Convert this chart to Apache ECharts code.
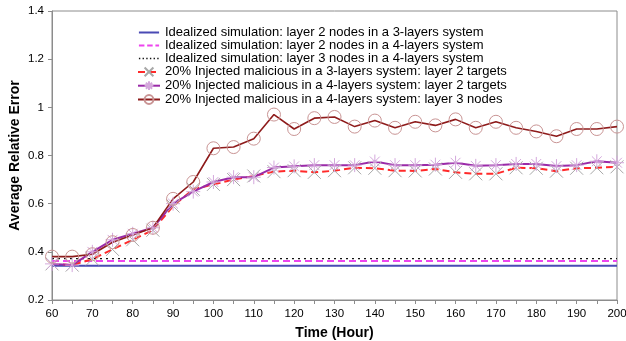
<!DOCTYPE html>
<html>
<head>
<meta charset="utf-8">
<script src="https://cdn.jsdelivr.net/npm/echarts@6/dist/echarts.min.js"></script>
<style>
  html, body { margin: 0; padding: 0; background: #fff; }
  #chart { width: 626px; height: 341px; }
</style>
</head>
<body>
<div id="chart"></div>
<script>
// Time axis (hours)
const hours = [60, 65, 70, 75, 80, 85, 90, 95, 100, 105, 110, 115, 120, 125, 130,
               135, 140, 145, 150, 155, 160, 165, 170, 175, 180, 185, 190, 195, 200];

// Idealized simulation results (flat over time)
const ideal3L2 = [0.342, 0.342, 0.342, 0.342, 0.342, 0.342, 0.342, 0.342, 0.342, 0.342,
                  0.342, 0.342, 0.342, 0.342, 0.342, 0.342, 0.342, 0.342, 0.342, 0.342,
                  0.342, 0.342, 0.342, 0.342, 0.342, 0.342, 0.342, 0.342, 0.342];
const ideal4L2 = [0.362, 0.362, 0.362, 0.362, 0.362, 0.362, 0.362, 0.362, 0.362, 0.362,
                  0.362, 0.362, 0.362, 0.362, 0.362, 0.362, 0.362, 0.362, 0.362, 0.362,
                  0.362, 0.362, 0.362, 0.362, 0.362, 0.362, 0.362, 0.362, 0.362];
const ideal4L3 = [0.372, 0.372, 0.372, 0.372, 0.372, 0.372, 0.372, 0.372, 0.372, 0.372,
                  0.372, 0.372, 0.372, 0.372, 0.372, 0.372, 0.372, 0.372, 0.372, 0.372,
                  0.372, 0.372, 0.372, 0.372, 0.372, 0.372, 0.372, 0.372, 0.372];

// 20% injected malicious nodes
const mal3L2 = [0.35, 0.345, 0.37, 0.41, 0.45, 0.49, 0.59, 0.66, 0.68, 0.70,
                0.715, 0.733, 0.737, 0.73, 0.737, 0.749, 0.747, 0.737, 0.736, 0.744,
                0.73, 0.724, 0.724, 0.749, 0.747, 0.735, 0.747, 0.749, 0.753];
const mal4L2 = [0.35, 0.345, 0.40, 0.45, 0.475, 0.50, 0.60, 0.65, 0.69, 0.71,
                0.71, 0.75, 0.755, 0.76, 0.76, 0.76, 0.775, 0.76, 0.76, 0.762,
                0.77, 0.757, 0.76, 0.765, 0.765, 0.756, 0.76, 0.776, 0.77];
const mal4L3 = [0.38, 0.38, 0.39, 0.44, 0.47, 0.50, 0.62, 0.69, 0.83, 0.835,
                0.87, 0.97, 0.91, 0.955, 0.96, 0.92, 0.945, 0.915, 0.94, 0.925,
                0.95, 0.915, 0.94, 0.915, 0.90, 0.88, 0.91, 0.91, 0.92];

const names = [
  'Idealized simulation: layer 2 nodes in a 3-layers system',
  'Idealized simulation: layer 2 nodes in a 4-layers system',
  'Idealized simulation: layer 3 nodes in a 4-layers system',
  '20% Injected malicious in a 3-layers system: layer 2 targets',
  '20% Injected malicious in a 4-layers system: layer 2 targets',
  '20% Injected malicious in a 4-layers system: layer 3 nodes'
];

const colors = ['#4a4ab4', '#ee44ee', '#111111', '#ff2a2a', '#9a2aa8', '#8e1b1b'];

const pairs = arr => hours.map((h, i) => [h, arr[i]]);

// marker shapes
const crossPath = 'path://M0,0L10,10M10,0L0,10';
const starPath = 'path://M5,0L5,10M0,5L10,5M1.5,1.5L8.5,8.5M8.5,1.5L1.5,8.5';

// legend keys for the plain lines: corner specks fix the 22x12 box, bars draw the stroke
const box = 'M0,0L0.01,0L0,0.01Z M22,12L21.99,12L22,11.99Z ';
const solidKey = 'path://' + box + 'M0,5h22v2h-22Z';
const dashKey = 'path://' + box + 'M0,5h6v2h-6Z M9,5h6v2h-6Z M18,5h4v2h-4Z';
const dotKey = 'path://' + box +
  'M0,5.2h1.5v1.6h-1.5Z M4,5.2h1.5v1.6h-1.5Z M8,5.2h1.5v1.6h-1.5Z M12,5.2h1.5v1.6h-1.5Z M16,5.2h1.5v1.6h-1.5Z M20,5.2h1.5v1.6h-1.5Z';

const font = 'Liberation Sans, Arial, sans-serif';

const chart = echarts.init(document.getElementById('chart'), null, { renderer: 'canvas' });

chart.setOption({
  animation: false,
  backgroundColor: '#ffffff',
  grid: {
    left: 52, right: 9, top: 11, bottom: 41,
    containLabel: false, outerBoundsMode: 'none',
    show: true, borderColor: '#8c8c8c', borderWidth: 1, backgroundColor: 'transparent'
  },
  legend: {
    orient: 'vertical',
    left: 132, top: 21,
    itemWidth: 22, itemHeight: 11, itemGap: 0,
    textStyle: { fontFamily: font, fontSize: 13, color: '#000', lineHeight: 11 },
    data: [
      { name: names[0], icon: solidKey, itemStyle: { color: colors[0] } },
      { name: names[1], icon: dashKey, itemStyle: { color: colors[1] } },
      { name: names[2], icon: dotKey, itemStyle: { color: colors[2] } },
      { name: names[3] },
      { name: names[4] },
      { name: names[5] }
    ]
  },
  xAxis: {
    type: 'value',
    min: 60, max: 200, interval: 5,
    name: 'Time (Hour)', nameLocation: 'middle', nameGap: 26,
    nameTextStyle: { fontFamily: font, fontSize: 14, fontWeight: 'bold', color: '#000' },
    axisLine: { lineStyle: { color: '#8c8c8c' } },
    axisTick: { show: true, length: 4, lineStyle: { color: '#8c8c8c' } },
    axisLabel: {
      fontFamily: font, fontSize: 11.5, color: '#000', margin: 8,
      formatter: v => (v % 10 === 0 ? String(v) : '')
    },
    splitLine: { show: false }
  },
  yAxis: {
    type: 'value',
    min: 0.2, max: 1.4, interval: 0.2,
    name: 'Average Relative Error', nameLocation: 'middle', nameGap: 30,
    nameMoveOverlap: false,
    nameTextStyle: { fontFamily: font, fontSize: 14, fontWeight: 'bold', color: '#000' },
    axisLine: { show: true, lineStyle: { color: '#8c8c8c' } },
    axisTick: { show: true, length: 4, lineStyle: { color: '#8c8c8c' } },
    axisLabel: {
      fontFamily: font, fontSize: 11.5, color: '#000', margin: 8,
      formatter: v => String(Math.round(v * 10) / 10)
    },
    splitLine: { show: false }
  },
  series: [
    {
      name: names[0], type: 'line', data: pairs(ideal3L2), showSymbol: false,
      lineStyle: { color: colors[0], width: 2 }, itemStyle: { color: colors[0] }
    },
    {
      name: names[1], type: 'line', data: pairs(ideal4L2), showSymbol: false,
      lineStyle: { color: colors[1], width: 2, type: [7, 4] }, itemStyle: { color: colors[1] }
    },
    {
      name: names[2], type: 'line', data: pairs(ideal4L3), showSymbol: false,
      lineStyle: { color: colors[2], width: 1.3, type: [2, 4] }, itemStyle: { color: colors[2] }
    },
    {
      name: names[3], type: 'line', data: pairs(mal3L2),
      symbol: crossPath, symbolSize: 13,
      lineStyle: { color: colors[3], width: 2, type: [7, 4] },
      itemStyle: { color: 'none', borderColor: '#a8a8a8', borderWidth: 1 }
    },
    {
      name: names[4], type: 'line', data: pairs(mal4L2),
      symbol: starPath, symbolSize: 14,
      lineStyle: { color: colors[4], width: 2 },
      itemStyle: { color: 'none', borderColor: '#d4a8dc', borderWidth: 1 }
    },
    {
      name: names[5], type: 'line', data: pairs(mal4L3),
      symbol: 'circle', symbolSize: 13,
      lineStyle: { color: colors[5], width: 1.6 },
      itemStyle: { color: 'none', borderColor: '#c99494', borderWidth: 1 }
    }
  ]
});
</script>
</body>
</html>
